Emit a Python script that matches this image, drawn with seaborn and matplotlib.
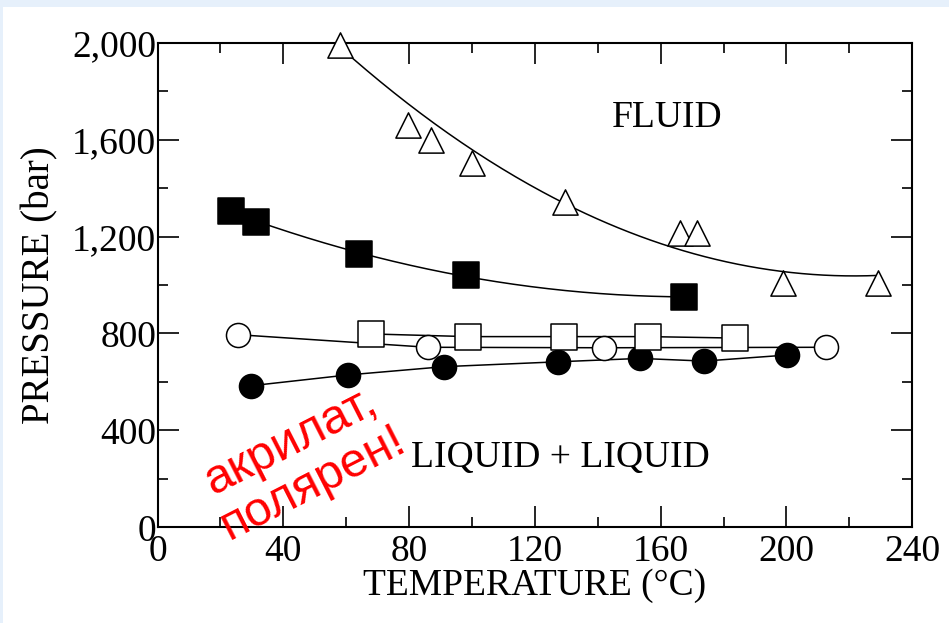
import numpy as np
import pandas as pd
import seaborn as sns
import matplotlib.pyplot as plt
from matplotlib.patches import Rectangle

# data (temperature in C, pressure in bar)
tri_t = [58, 79.6, 87, 100, 129.6, 166, 171.5, 199, 229]
tri_p = [1990, 1660, 1600, 1505, 1342, 1214, 1214, 1010, 1010]

sq_f_t = [23.3, 31.2, 64.1, 98.0, 167.3]
sq_f_p = [1307, 1261, 1127, 1041, 950]

sq_o_t = [67.9, 98.7, 129.3, 156.1, 183.6]
sq_o_p = [798, 787, 787, 787, 781]

ci_o_t = [25.5, 85.9, 142.1, 212.6]
ci_o_p = [795, 743, 741, 743]

ci_f_t = [29.6, 60.7, 91.2, 127.3, 153.4, 173.8, 200.3]
ci_f_p = [584, 629, 663, 683, 697, 686, 711]

x_ticks = [0, 40, 80, 120, 160, 200, 240]
y_ticks = [0, 400, 800, 1200, 1600, 2000]
y_labels = ["0", "400", "800", "1,200", "1,600", "2,000"]

sns.set_style("ticks")
plt.rcParams['font.family'] = ['Liberation Serif', 'DejaVu Serif']
plt.rcParams['text.color'] = 'black'
plt.rcParams['axes.labelcolor'] = 'black'

fig = plt.figure(figsize=(9.49, 6.23), dpi=100, facecolor="#e6f0fb")
# white page inside the light blue frame
fig.patches.append(Rectangle((3 / 949, 0), 1, (623 - 7) / 623, transform=fig.transFigure,
                             facecolor="white", edgecolor="none", zorder=-10))
ax = fig.add_axes([157.5 / 949, 1 - 527.3 / 623, (912.3 - 157.5) / 949, (527.3 - 42.7) / 623])
ax.set_facecolor("white")

lw = 1.1
# smooth fitted curves (first triangle weighted so the curve starts on it)
w = np.ones(len(tri_t))
w[0] = 4
c = np.polyfit(tri_t, tri_p, 2, w=w)
xs = np.linspace(tri_t[0], tri_t[-1], 200)
sns.lineplot(x=xs, y=np.polyval(c, xs), color="black", lw=lw, ax=ax)

c = np.polyfit(sq_f_t, sq_f_p, 2)
xs = np.linspace(sq_f_t[1], sq_f_t[-1], 200)
sns.lineplot(x=xs, y=np.polyval(c, xs), color="black", lw=lw, ax=ax)

# straight connections
for tt, pp in [(sq_o_t, sq_o_p), (ci_o_t, ci_o_p), (ci_f_t, ci_f_p)]:
    sns.lineplot(x=tt, y=pp, color="black", lw=lw, sort=False, ax=ax)

# markers
sns.scatterplot(x=ci_f_t, y=ci_f_p, marker="o", s=300, color="black",
                edgecolor="black", linewidth=lw, zorder=5, ax=ax)
sns.scatterplot(x=ci_o_t, y=ci_o_p, marker="o", s=300, color="white",
                edgecolor="black", linewidth=lw, zorder=5, ax=ax)
sns.scatterplot(x=sq_o_t, y=sq_o_p, marker="s", s=330, color="white",
                edgecolor="black", linewidth=lw, zorder=5, ax=ax)
sns.scatterplot(x=sq_f_t, y=sq_f_p, marker="s", s=330, color="black",
                edgecolor="black", linewidth=lw, zorder=5, ax=ax)
sns.scatterplot(x=tri_t, y=tri_p, marker="^", s=330, color="white",
                edgecolor="black", linewidth=lw, zorder=5, ax=ax, clip_on=False)

ax.set_xlim(0, 240)
ax.set_ylim(0, 2000)
ax.set_xticks(x_ticks)
ax.set_xticks(np.arange(20, 240, 40), minor=True)
ax.set_yticks(y_ticks)
ax.set_yticklabels(y_labels)
ax.set_yticks(np.arange(200, 2000, 400), minor=True)
ax.tick_params(which="both", direction="in", top=True, right=True, width=1.2,
               colors="black", labelcolor="black")
ax.tick_params(which="major", length=15, labelsize=27)
ax.tick_params(which="minor", length=7)
ax.tick_params(axis="y", pad=1)
ax.tick_params(axis="x", pad=5)
for s in ax.spines.values():
    s.set_linewidth(1.5)
    s.set_color("black")

ax.set_xlabel("TEMPERATURE (°C)", fontsize=27, labelpad=0, color="black")
ax.set_ylabel("PRESSURE (bar)", fontsize=28, labelpad=10, color="black")

ax.text(162, 1690, "FLUID", fontsize=27, ha="center", va="center", color="black")
ax.text(128, 287, "LIQUID + LIQUID", fontsize=27, ha="center", va="center", color="black")
ax.text(46, 268, "акрилат,\nполярен!", fontsize=35, color="red", rotation=27,
        ha="center", va="center", multialignment="center", linespacing=1.05,
        family=["Liberation Sans", "DejaVu Sans"], zorder=6)

fig.savefig("out.png", dpi=100, facecolor=fig.get_facecolor())
